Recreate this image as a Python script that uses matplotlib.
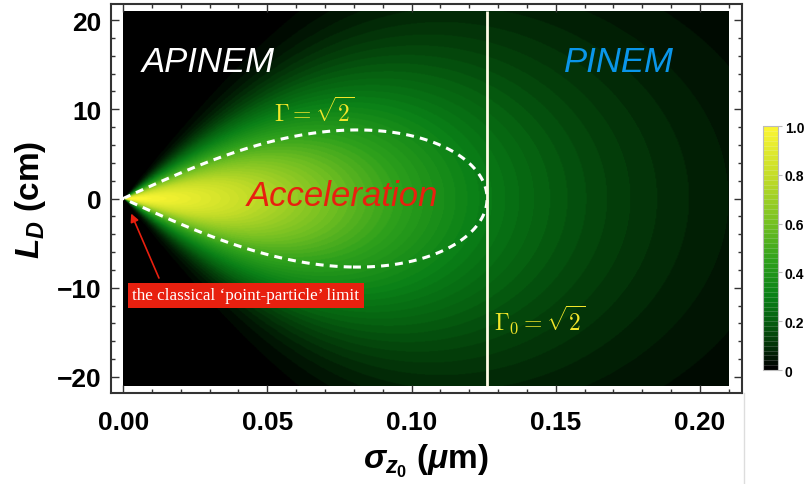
import numpy as np
import matplotlib
matplotlib.use("Agg")
import matplotlib.pyplot as plt
from matplotlib.colors import LinearSegmentedColormap
from matplotlib.ticker import MultipleLocator
from matplotlib.lines import Line2D

# values
sigma_range = (0.0, 0.21)        # um, extent of the density map
ld_range = (-21.0, 21.0)         # cm
sigma_c = 0.1262                 # um, where Gamma_0 = sqrt(2) (white line)
k_ld = 147.0                     # cm/um, slope of the Gamma = sqrt(2) lobe
sigma_decay = 0.11               # um, fall-off of the map along L_D = 0
decay_pow = 1.6
w_slope = 200.0                  # cm/um, width of the bright wedge near the tip
sigma_sat = 0.141                # um, where the wedge width levels off
x_ticks = [0.00, 0.05, 0.10, 0.15, 0.20]
x_labels = ["0.00", "0.05", "0.10", "0.15", "0.20"]
y_ticks = [-20, -10, 0, 10, 20]
y_labels = ["\u221220", "\u221210", "0", "10", "20"]
cb_ticks = [0, 0.2, 0.4, 0.6, 0.8, 1.0]
cb_labels = ["0", "0.2", "0.4", "0.6", "0.8", "1.0"]

# avocado-like colours (black -> green -> yellow)
avo_pos = [0.0, 0.1, 0.2, 0.3, 0.45, 0.6, 0.8, 1.0]
avo_col = ["#000000", "#033408", "#066010", "#0a8017", "#2ea01c",
           "#72bf22", "#c3dc28", "#faf532"]

red = "#e8200f"

plt.rcParams["font.family"] = ["Liberation Sans", "DejaVu Sans"]
plt.rcParams["mathtext.fontset"] = "custom"
plt.rcParams["mathtext.it"] = "Liberation Sans:bold:italic"
plt.rcParams["mathtext.rm"] = "Liberation Sans:bold"
plt.rcParams["mathtext.bf"] = "Liberation Sans:bold"

cmap = LinearSegmentedColormap.from_list("avocado", list(zip(avo_pos, avo_col)), N=50)

s = np.linspace(1e-5, sigma_range[1], 600)
l = np.linspace(ld_range[0], ld_range[1], 600)
S, L = np.meshgrid(s, l)
gamma2 = (1 + (S / sigma_c) ** 2) * (1 + (L / (k_ld * S)) ** 2)
width = w_slope * S / np.sqrt(1 + (S / sigma_sat) ** 2)
field = np.exp(-(S / sigma_decay) ** decay_pow) * np.exp(-(L / width) ** 2)

fig = plt.figure(figsize=(8.08, 4.85), dpi=100)
ax = fig.add_axes([0.1374, 0.1876, 0.7809, 0.8021])
im = ax.imshow(field, origin="lower", aspect="auto", cmap=cmap, vmin=0, vmax=1,
               extent=[sigma_range[0], sigma_range[1], ld_range[0], ld_range[1]],
               interpolation="bilinear")
ax.contour(S, L, np.sqrt(gamma2), levels=[np.sqrt(2)], colors="white",
           linewidths=2.2, linestyles=[(0, (2.6, 2))])
ax.vlines(sigma_c, ld_range[0], ld_range[1], colors="#fffbe6", linewidth=2)

ax.set_xlim(-0.0042, 0.2146)
ax.set_ylim(-21.8, 21.8)
ax.set_xticks(x_ticks, x_labels)
ax.set_yticks(y_ticks, y_labels)
ax.xaxis.set_minor_locator(MultipleLocator(0.01))
ax.yaxis.set_minor_locator(MultipleLocator(2))
ax.tick_params(which="both", direction="in", top=True, right=True,
               color="#333333", width=1)
ax.tick_params(which="major", length=6)
ax.tick_params(which="minor", length=3)
ax.tick_params(axis="x", labelsize=19, pad=12)
ax.tick_params(axis="y", labelsize=19, pad=7)
for t in ax.get_xticklabels() + ax.get_yticklabels():
    t.set_fontweight("bold")
for sp in ax.spines.values():
    sp.set_color("#333333")
    sp.set_linewidth(1.5)

ax.set_xlabel(r"$\sigma_{z_0}$ ($\mu$m)", fontsize=24, fontweight="bold", labelpad=6)
ax.set_ylabel(r"$L_D$ (cm)", fontsize=24, fontweight="bold", labelpad=6)

ax.text(0.0295, 15.4, "APINEM", color="white", fontsize=25, style="italic",
        ha="center", va="center")
ax.text(0.172, 15.4, "PINEM", color="#0a96ea", fontsize=25, style="italic",
        ha="center", va="center")
ax.text(0.076, 0.3, "Acceleration", color=red, fontsize=25, style="italic",
        ha="center", va="center")
ax.text(0.0662, 9.8, r"$\Gamma = \sqrt{2}$", color="#f2e62a", fontsize=17,
        ha="center", va="center", math_fontfamily="cm")
ax.text(0.1286, -13.5, r"$\Gamma_0 = \sqrt{2}$", color="#f2e62a", fontsize=17,
        ha="left", va="center", math_fontfamily="cm")
ax.annotate("", xy=(0.0024, -1.4), xytext=(0.0128, -9.2),
            arrowprops=dict(arrowstyle="-|>", color=red, lw=1.2, mutation_scale=12))
ax.text(0.0426, -10.85, "the classical \u2018point-particle\u2019 limit", color="white",
        fontsize=12.3, family=["Liberation Serif", "DejaVu Serif"],
        ha="center", va="center",
        bbox=dict(boxstyle="square,pad=0.25", fc=red, ec="none"))

cax = fig.add_axes([0.9443, 0.235, 0.0186, 0.503])
cb = fig.colorbar(im, cax=cax, boundaries=np.linspace(0, 1, 51), drawedges=True)
cb.dividers.set_color((1, 1, 1, 0.25))
cb.dividers.set_linewidth(0.5)
cb.outline.set_edgecolor("#bbbbbb")
cb.outline.set_linewidth(0.8)
cb.set_ticks(cb_ticks, labels=cb_labels)
cax.tick_params(labelsize=10, length=3, color="#bbbbbb", pad=2)
for t in cax.get_yticklabels():
    t.set_fontweight("bold")

fig.add_artist(Line2D([744 / 808, 744 / 808], [0, 91 / 485], color="#dddddd", lw=1))

fig.savefig("out.png", dpi=100)
